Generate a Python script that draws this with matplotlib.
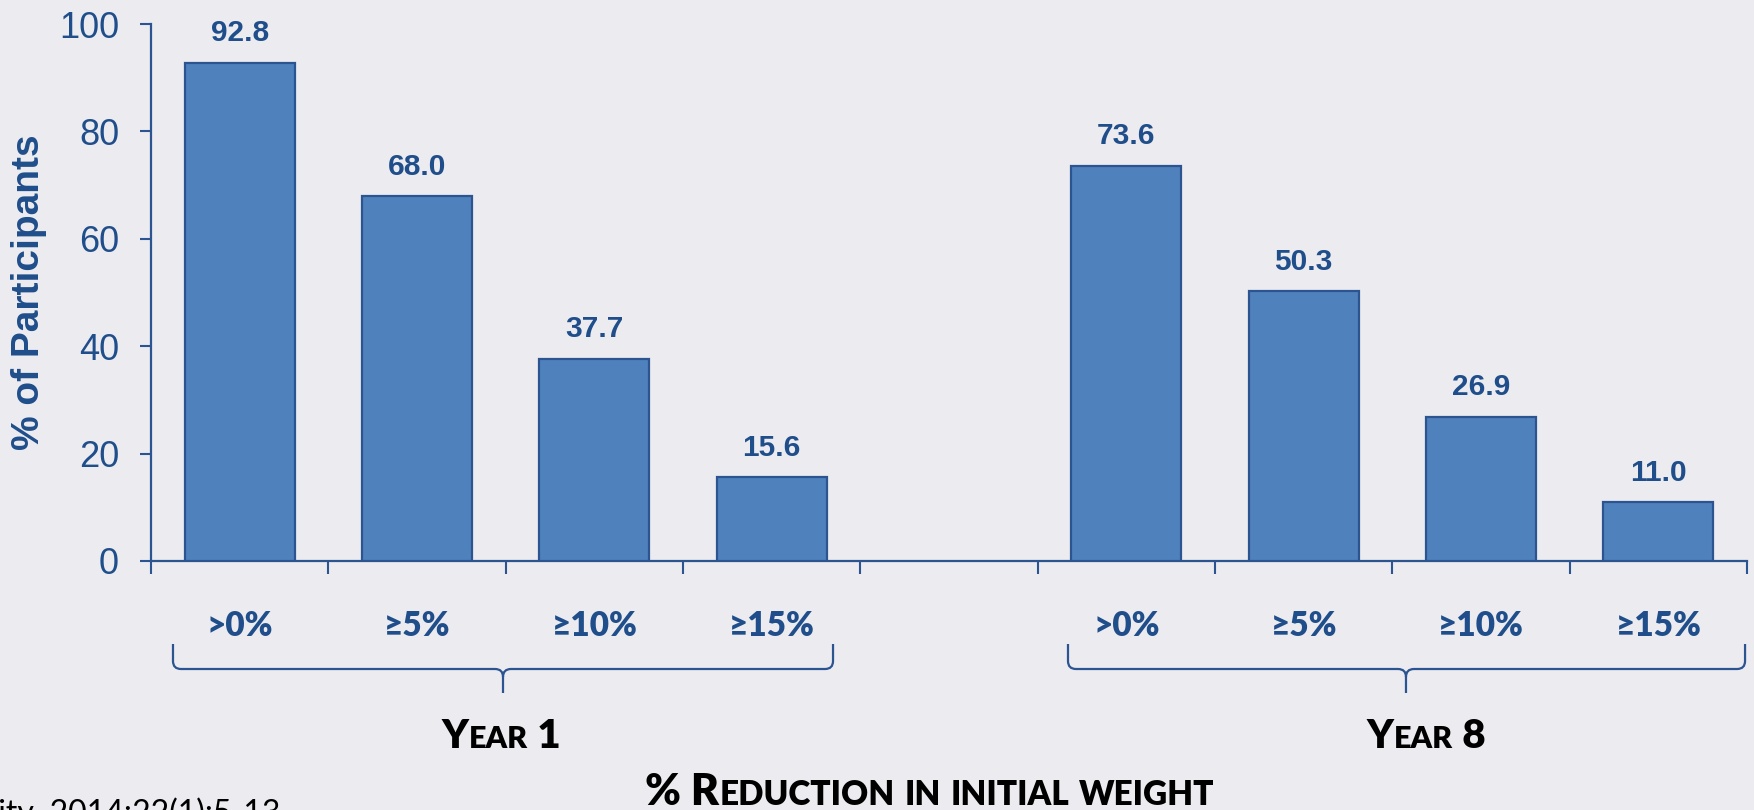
import matplotlib
matplotlib.use("Agg")
import matplotlib.pyplot as plt
from matplotlib.path import Path
from matplotlib.patches import PathPatch
from matplotlib.transforms import IdentityTransform

# data
categories = [">0%", "\u22655%", "\u226510%", "\u226515%"]
year1 = [92.8, 68.0, 37.7, 15.6]
year8 = [73.6, 50.3, 26.9, 11.0]
groups = ["Year 1", "Year 8"]
# brace spans in data x (left, centre, right) and group label centres
braces = [(-0.376, 1.485, 3.346), (4.671, 6.577, 8.489)]
group_x = [1.474, 6.69]
yticks = [0, 20, 40, 60, 80, 100]

BG = "#EBEBF0"
BAR = "#4F81BD"
EDGE = "#2B5490"
DARK = "#1F4E8A"

W, H = 1754, 810
fig = plt.figure(figsize=(W / 100, H / 100), dpi=100, facecolor=BG)
ax = fig.add_axes([151 / W, 1 - 561 / H, (1747 - 151) / W, (561 - 24) / H])
ax.set_facecolor(BG)

xs = list(range(4)) + list(range(5, 9))
vals = year1 + year8
ax.bar(xs, vals, width=0.62, color=BAR, edgecolor=EDGE, linewidth=1.6, zorder=3)
for x, v in zip(xs, vals):
    ax.annotate(f"{v:.1f}", (x, v), xytext=(0, 11), textcoords="offset points",
                ha="center", va="bottom", fontsize=21.5, fontweight="bold",
                family="Liberation Sans", color=DARK)

ax.set_xlim(-0.5, 8.5)
ax.set_ylim(0, 100)
ax.set_yticks(yticks)
for lbl in ax.get_yticklabels():
    lbl.set_family("Liberation Sans")
ax.tick_params(axis="y", length=8, width=1.5, color=EDGE, labelsize=26,
               labelcolor=DARK, pad=15)

ax.set_xticks(xs)
ax.set_xticklabels(categories * 2)
ax.set_xticks([i - 0.5 for i in range(10)], minor=True)
ax.tick_params(axis="x", which="major", length=0, pad=35, labelsize=24,
               labelcolor=DARK)
for lbl in ax.get_xticklabels():
    lbl.set_family("Lato")
    lbl.set_fontweight("heavy")
ax.tick_params(axis="x", which="minor", length=9, width=1.5, color=EDGE)

for s in ["top", "right"]:
    ax.spines[s].set_visible(False)
for s in ["left", "bottom"]:
    ax.spines[s].set_color(EDGE)
    ax.spines[s].set_linewidth(1.6)

fig.text(29 / W, 1 - 292 / H, "% of Participants", rotation=90, ha="center",
         va="center", fontsize=28, fontweight="bold", family="Liberation Sans",
         color=DARK)

fig.canvas.draw()
renderer = fig.canvas.get_renderer()


def px(xd):
    return ax.transData.transform((xd, 0))[0]


# braces
y_top, y_mid, y_tip = H - 644, H - 669, H - 693
r = 8
for x0, xc, x1 in braces:
    a, c, b = px(x0), px(xc), px(x1)
    verts = [(a, y_top), (a, y_mid + r), (a, y_mid), (a + r, y_mid),
             (c - r, y_mid), (c, y_mid), (c, y_mid - r), (c, y_tip),
             (c, y_mid - r), (c, y_mid), (c + r, y_mid),
             (b - r, y_mid), (b, y_mid), (b, y_mid + r), (b, y_top)]
    codes = [Path.MOVETO, Path.LINETO, Path.CURVE3, Path.CURVE3,
             Path.LINETO, Path.CURVE3, Path.CURVE3, Path.LINETO,
             Path.MOVETO, Path.CURVE3, Path.CURVE3,
             Path.LINETO, Path.CURVE3, Path.CURVE3, Path.LINETO]
    fig.add_artist(PathPatch(Path(verts, codes), facecolor="none", edgecolor=EDGE,
                             linewidth=1.6, transform=IdentityTransform()))


def small_caps(xc, yb, s, big, small, **kw):
    runs = []
    for ch in s:
        size = small if ch.islower() else big
        if runs and runs[-1][1] == size:
            runs[-1][0] += ch.upper()
        else:
            runs.append([ch.upper(), size])
    arts = []
    for t, size in runs:
        arts.append(fig.text(0, yb, t, fontsize=size, va="baseline", ha="left",
                             transform=IdentityTransform(), **kw))
    widths = [a.get_window_extent(renderer).width for a in arts]
    x = xc - sum(widths) / 2
    for a, w in zip(arts, widths):
        a.set_x(x)
        x += w


kw = dict(family="Lato", fontweight="heavy", color="black")
for g, gx in zip(groups, group_x):
    small_caps(px(gx), H - 748, g, 29, 22, **kw)
small_caps(930, H - 805, "% Reduction in initial weight", 31, 24, **kw)

fig.text(280, -13, "Obesity. 2014;22(1):5-13", ha="right", va="baseline",
         fontsize=23, family="Lato", color="black", transform=IdentityTransform())

fig.savefig("out.png", dpi=100, facecolor=BG)
